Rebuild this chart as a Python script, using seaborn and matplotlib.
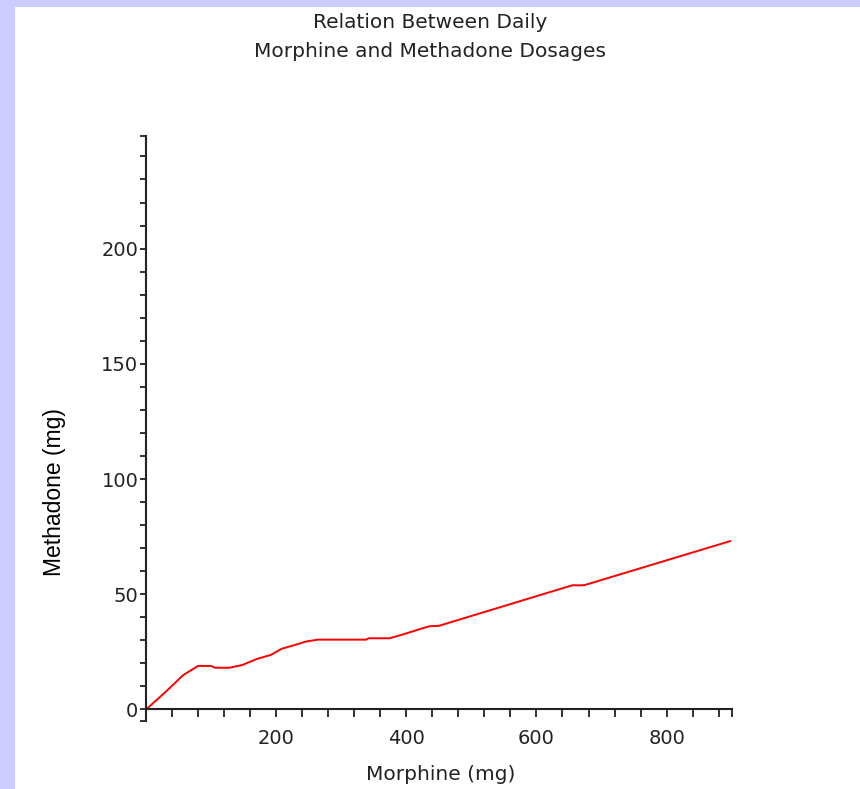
import matplotlib
matplotlib.use("Agg")
import matplotlib.pyplot as plt
import matplotlib.patches as mpatches
from matplotlib.ticker import FixedLocator
import seaborn as sns
import pandas as pd

# Data
morphine = [0, 30, 57, 80, 100, 106, 128, 148, 170, 192, 208, 230, 246, 264,
            338, 342, 374, 394, 420, 435, 450, 655, 673, 898]
methadone = [0, 7.6, 14.9, 18.9, 18.9, 18.1, 18.1, 19.3, 21.9, 23.7, 26.3, 28.1,
             29.5, 30.3, 30.3, 30.9, 30.9, 32.5, 34.8, 36.1, 36.3, 53.9, 53.9, 73.1]
x_major = [200, 400, 600, 800]
y_major = [0, 50, 100, 150, 200]

title_text = "Relation Between Daily\nMorphine and Methadone Dosages"
x_label = "Morphine (mg)"
y_label = "Methadone (mg)"

df = pd.DataFrame({"Morphine": morphine, "Methadone": methadone})

sns.set_theme(style="white")
plt.rcParams["font.family"] = ["DejaVu Sans"]

W, H = 860, 789
fig = plt.figure(figsize=(W / 100, H / 100), dpi=100, facecolor="white")

# lavender frame (top and left)
lav = "#CCCCFF"
fig.patches.append(mpatches.Rectangle((0, 1 - 7 / H), 1, 7 / H, transform=fig.transFigure,
                                      facecolor=lav, edgecolor="none", zorder=0))
fig.patches.append(mpatches.Rectangle((0, 0), 15 / W, 1, transform=fig.transFigure,
                                      facecolor=lav, edgecolor="none", zorder=0))

ax_left, ax_right = 146 / W, 731.7 / W
ax_bottom, ax_top = (H - 721) / H, (H - 135.7) / H
ax = fig.add_axes([ax_left, ax_bottom, ax_right - ax_left, ax_top - ax_bottom])
ax.set_facecolor("none")

sns.lineplot(data=df, x="Morphine", y="Methadone", ax=ax, color="#FF0000",
             linewidth=1.4, sort=False, estimator=None)

ax.set_xlim(0, 900)
ax.set_ylim(-5, 249)

for s in ["top", "right"]:
    ax.spines[s].set_visible(False)
ax.spines["bottom"].set_position(("data", 0))
for s in ["left", "bottom"]:
    ax.spines[s].set_color("#222222")
    ax.spines[s].set_linewidth(1.5)

ax.xaxis.set_major_locator(FixedLocator(x_major))
ax.yaxis.set_major_locator(FixedLocator(y_major))
ax.xaxis.set_minor_locator(FixedLocator([v for v in range(40, 901, 40)] + [900]))
ax.yaxis.set_minor_locator(FixedLocator([-5] + list(range(10, 250, 10)) + [249]))
ax.tick_params(axis="both", which="both", direction="out", color="#222222", width=1.3,
               bottom=True, left=True, labelsize=14, labelcolor="#222222")
ax.tick_params(axis="x", which="both", length=6)
ax.tick_params(axis="y", which="both", length=4.5)
ax.tick_params(axis="x", which="major", pad=8)
ax.tick_params(axis="y", which="major", pad=1)

ax.set_xlabel("")
ax.set_ylabel("")
ax.grid(False)

fig.text(0.5, (H - 37) / H, title_text, ha="center", va="center", fontsize=14.5,
         color="#222222", linespacing=1.65)
fig.text(441 / W, (H - 775) / H, x_label, ha="center", va="center", fontsize=14.5,
         color="#222222")
fig.text(55 / W, (H - 492) / H, y_label, ha="center", va="center", rotation=90,
         fontsize=16.5, color="black", family=["Liberation Sans", "DejaVu Sans"])

fig.savefig("out.png", dpi=100, facecolor=fig.get_facecolor())
